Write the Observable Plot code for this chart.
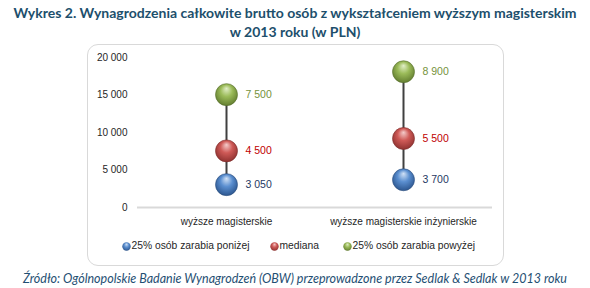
<!DOCTYPE html>
<html><head><meta charset="utf-8">
<script src="https://cdn.jsdelivr.net/npm/d3@7"></script>
<script src="https://cdn.jsdelivr.net/npm/@observablehq/plot@0.6"></script>
<style>
html,body{margin:0;padding:0;background:#fff;}
#page{position:relative;width:590px;height:288px;overflow:hidden;font-family:"Liberation Sans",Arial,sans-serif;}
.title{position:absolute;left:0;width:590px;text-align:center;font-family:Lato,"Open Sans",sans-serif;font-weight:bold;font-size:14px;color:#1d4f6c;white-space:nowrap;}
#panel{position:absolute;left:87px;top:44px;width:417px;height:222px;border:1px solid #d9d9d9;border-radius:11px;box-sizing:border-box;}
#chart{position:absolute;left:0;top:44px;}
.leg{position:absolute;top:239px;font-size:10.3px;color:#262626;white-space:nowrap;line-height:14px;}
.leg svg{vertical-align:-2px;margin-right:1px;}
#source{position:absolute;left:0;top:271px;width:590px;text-align:center;font-family:Lato,"Open Sans",sans-serif;font-style:italic;font-size:12.5px;color:#1f4f73;white-space:nowrap;}
</style></head>
<body>
<svg width="0" height="0" style="position:absolute">
<defs>
<radialGradient id="gBlue" cx="50%" cy="45%" r="60%" fx="50%" fy="22%"><stop offset="0%" stop-color="#d2e2f6"/><stop offset="45%" stop-color="#5b8fd0"/><stop offset="85%" stop-color="#35619c"/><stop offset="100%" stop-color="#2b4f80"/></radialGradient>
<radialGradient id="gRed" cx="50%" cy="45%" r="60%" fx="50%" fy="22%"><stop offset="0%" stop-color="#f4cccb"/><stop offset="45%" stop-color="#cf5a57"/><stop offset="85%" stop-color="#9c3a38"/><stop offset="100%" stop-color="#7f2d2b"/></radialGradient>
<radialGradient id="gGreen" cx="50%" cy="45%" r="60%" fx="50%" fy="22%"><stop offset="0%" stop-color="#e2efc8"/><stop offset="45%" stop-color="#9bbb59"/><stop offset="85%" stop-color="#6e8a38"/><stop offset="100%" stop-color="#58702b"/></radialGradient>
</defs>
</svg>
<div id="page">
  <div class="title" style="top:4px">Wykres 2. Wynagrodzenia całkowite brutto osób z wykształceniem wyższym magisterskim</div>
  <div class="title" style="top:23px">w 2013 roku (w PLN)</div>
  <div id="panel"></div>
  <div id="chart"></div>
  <div id="legend"></div>
  <div id="source">Źródło: Ogólnopolskie Badanie Wynagrodzeń (OBW) przeprowadzone przez Sedlak &amp; Sedlak w 2013 roku</div>
</div>
<script>
// ---- data ----
const categories = ["wyższe magisterskie", "wyższe magisterskie inżynierskie"];
const seriesNames = ["25% osób zarabia poniżej", "mediana", "25% osób zarabia powyżej"];
const lowValues = [3050, 3700];      // 25% earn below
const medianValues = [4500, 5500];   // median (increment)
const highValues = [7500, 8900];     // 25% earn above (increment)
const yTicks = [0, 5000, 10000, 15000, 20000];

const seriesFill = {
  "25% osób zarabia poniżej": "url(#gBlue)",
  "mediana": "url(#gRed)",
  "25% osób zarabia powyżej": "url(#gGreen)"
};
const seriesLabel = {
  "25% osób zarabia poniżej": "#1f3864",
  "mediana": "#c00000",
  "25% osób zarabia powyżej": "#76923c"
};
const seriesStroke = {
  "25% osób zarabia poniżej": "#2b4f80",
  "mediana": "#7f2d2b",
  "25% osób zarabia powyżej": "#58702b"
};

const rows = [];
categories.forEach((c, i) => {
  [lowValues, medianValues, highValues].forEach((arr, s) => {
    rows.push({category: c, series: seriesNames[s], value: arr[i]});
  });
});

const fmt = d => d3.format(",")(d).replace(/,/g, "\u00a0");

const chart = Plot.plot({
  width: 590,
  height: 190,
  marginTop: 13,
  marginBottom: 27,
  marginLeft: 137,
  marginRight: 98,
  style: {fontFamily: "'Liberation Sans', Arial, sans-serif", fontSize: "10px", color: "#262626", background: "transparent"},
  x: {type: "point", domain: categories, padding: 0.5, label: null, tickSize: 0, tickPadding: 10},
  y: {domain: [0, 20000], ticks: yTicks, tickFormat: fmt, label: null, tickSize: 0, tickPadding: 10},
  color: {type: "identity"},
  marks: [
    Plot.ruleY([0], {stroke: "#d9d9d9", strokeWidth: 2}),
    Plot.line(rows, Plot.stackY2({x: "category", y: "value", z: "category", stroke: "#404040", strokeWidth: 2})),
    Plot.dot(rows, Plot.stackY2({x: "category", y: "value", z: "series", r: 11,
      fill: d => seriesFill[d.series], stroke: d => seriesStroke[d.series], strokeWidth: 0.6})),
    Plot.text(rows, Plot.stackY2({x: "category", y: "value", z: "series", text: d => fmt(d.value),
      fill: d => seriesLabel[d.series], dx: 19, textAnchor: "start", fontSize: 10.5}))
  ]
});
document.getElementById("chart").appendChild(chart);

// legend
const legendPos = [126, 274, 347];
const legendFill = ["url(#gBlue)", "url(#gRed)", "url(#gGreen)"];
const legend = document.getElementById("legend");
seriesNames.forEach((name, i) => {
  const item = document.createElement("div");
  item.className = "leg";
  item.style.left = (legendPos[i] - 4.5) + "px";
  item.innerHTML = `<svg width="9" height="9"><circle cx="4.5" cy="4.5" r="4.2" fill="${legendFill[i]}"/></svg>` + name;
  legend.appendChild(item);
});
</script>
</body></html>
